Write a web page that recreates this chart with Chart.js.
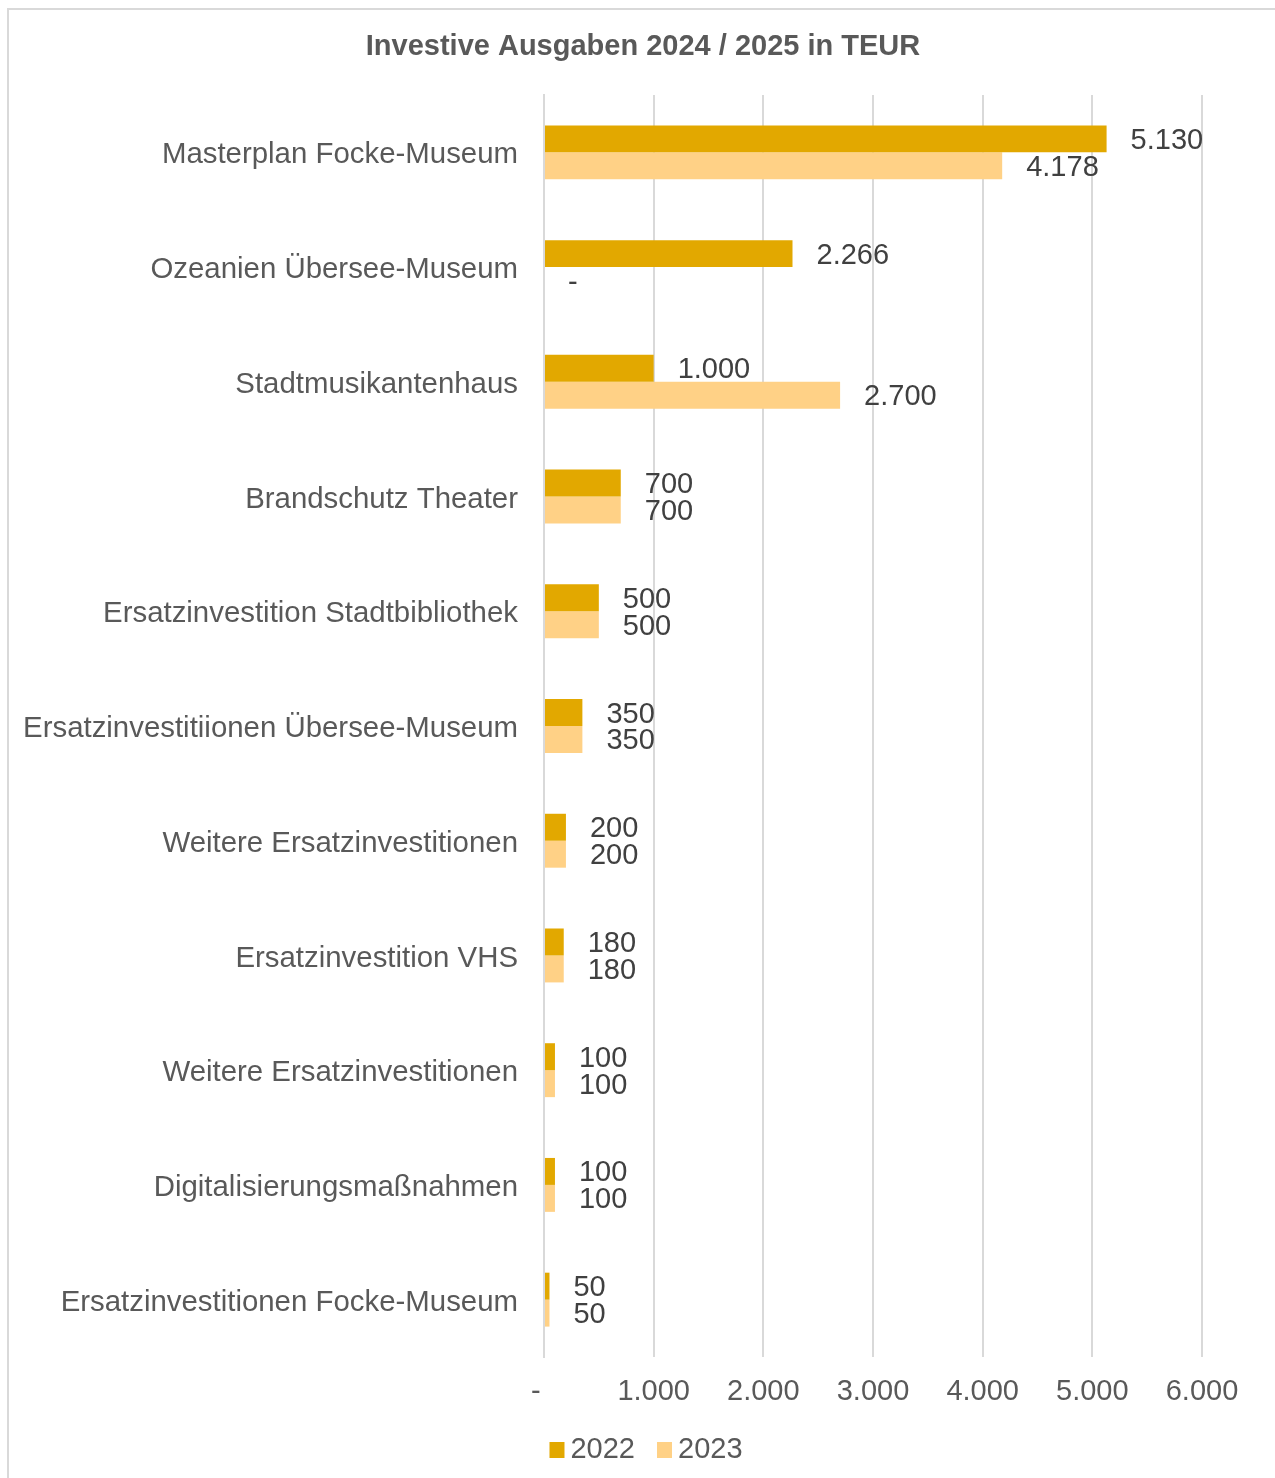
<!DOCTYPE html>
<html><head><meta charset="utf-8">
<script src="https://cdn.jsdelivr.net/npm/chart.js@4/dist/chart.umd.min.js"></script>
<style>html,body{margin:0;padding:0;background:#fff}canvas{display:block}</style>
</head><body>
<canvas id="c" width="1275" height="1478"></canvas>
<script>
const chartTitle = 'Investive Ausgaben 2024 / 2025 in TEUR';
const categories = [
  'Masterplan Focke-Museum',
  'Ozeanien Übersee-Museum',
  'Stadtmusikantenhaus',
  'Brandschutz Theater',
  'Ersatzinvestition Stadtbibliothek',
  'Ersatzinvestitiionen Übersee-Museum',
  'Weitere Ersatzinvestitionen',
  'Ersatzinvestition VHS',
  'Weitere Ersatzinvestitionen',
  'Digitalisierungsmaßnahmen',
  'Ersatzinvestitionen Focke-Museum'
];
const seriesNames = ['2022', '2023'];
const values2022 = [5130, 2266, 1000, 700, 500, 350, 200, 180, 100, 100, 50];
const values2023 = [4178, 0, 2700, 700, 500, 350, 200, 180, 100, 100, 50];
const xTickValues = [0, 1000, 2000, 3000, 4000, 5000, 6000];

const FONT = '"Liberation Sans", Arial, sans-serif';
function fmt(n) {
  if (n === 0) return '-';
  return String(n).replace(/\B(?=(\d{3})+(?!\d))/g, '.');
}

const frame = {
  id: 'frame',
  beforeDraw(chart) {
    const ctx = chart.ctx;
    ctx.save();
    ctx.fillStyle = '#ffffff';
    ctx.fillRect(0, 0, chart.width, chart.height);
    ctx.strokeStyle = '#d9d9d9';
    ctx.lineWidth = 2;
    ctx.strokeRect(8, 9, chart.width + 20, chart.height + 20);
    ctx.restore();
  }
};

const titleAndLegend = {
  id: 'titleAndLegend',
  afterDraw(chart) {
    const ctx = chart.ctx;
    ctx.save();
    ctx.fillStyle = '#595959';
    ctx.font = 'bold 29px ' + FONT;
    ctx.textAlign = 'center';
    ctx.textBaseline = 'middle';
    ctx.fillText(chartTitle, 643, 47);

    ctx.font = '29px ' + FONT;
    ctx.textAlign = 'left';
    const box = 15, gapText = 6, gapItem = 22;
    const items = chart.data.datasets.map(ds => ({
      text: ds.label, color: ds.backgroundColor, w: ctx.measureText(ds.label).width
    }));
    let total = 0;
    items.forEach((it, i) => { total += box + gapText + it.w + (i ? gapItem : 0); });
    let x = 646 - total / 2;
    const y = 1450;
    items.forEach((it, i) => {
      if (i) x += gapItem;
      ctx.fillStyle = it.color;
      ctx.fillRect(x, y - 8, box, 16);
      x += box + gapText;
      ctx.fillStyle = '#595959';
      ctx.fillText(it.text, x, y);
      x += it.w;
    });
    ctx.restore();
  }
};

const valueLabels = {
  id: 'valueLabels',
  afterDatasetsDraw(chart) {
    const ctx = chart.ctx;
    ctx.save();
    ctx.font = '29px ' + FONT;
    ctx.fillStyle = '#404040';
    ctx.textAlign = 'left';
    ctx.textBaseline = 'middle';
    chart.data.datasets.forEach((ds, di) => {
      const meta = chart.getDatasetMeta(di);
      meta.data.forEach((el, i) => {
        ctx.fillText(fmt(ds.data[i]), el.x + 24, el.y + 2);
      });
    });
    ctx.restore();
  }
};

new Chart(document.getElementById('c'), {
  type: 'bar',
  data: {
    labels: categories,
    datasets: [
      { label: seriesNames[0], data: values2022, backgroundColor: '#E2A800', categoryPercentage: 0.47, barPercentage: 1.0 },
      { label: seriesNames[1], data: values2023, backgroundColor: '#FFD186', categoryPercentage: 0.47, barPercentage: 1.0 }
    ]
  },
  options: {
    indexAxis: 'y',
    responsive: false,
    animation: false,
    devicePixelRatio: 1,
    layout: { padding: { left: 0, right: 73, top: 95, bottom: 68 } },
    plugins: {
      title: { display: false },
      legend: { display: false },
      tooltip: { enabled: false }
    },
    scales: {
      x: {
        min: 0,
        max: 6000,
        afterBuildTicks(scale) { scale.ticks = xTickValues.map(v => ({ value: v })); },
        afterFit(scale) { scale.height = 53; },
        ticks: {
          color: '#595959',
          font: { family: FONT, size: 29 },
          padding: 18,
          callback: (v) => (v === 0 ? '-\u2007' : fmt(v))
        },
        grid: { color: '#d9d9d9', lineWidth: 2, drawTicks: false },
        border: { display: false }
      },
      y: {
        afterFit(scale) { scale.width = 544; },
        ticks: {
          color: '#595959',
          font: { family: FONT, size: 29.4 },
          padding: 26,
          labelOffset: 3
        },
        grid: { display: false, drawTicks: false },
        border: { display: true, color: '#d9d9d9', width: 2 }
      }
    }
  },
  plugins: [frame, valueLabels, titleAndLegend]
});
</script>
</body></html>
